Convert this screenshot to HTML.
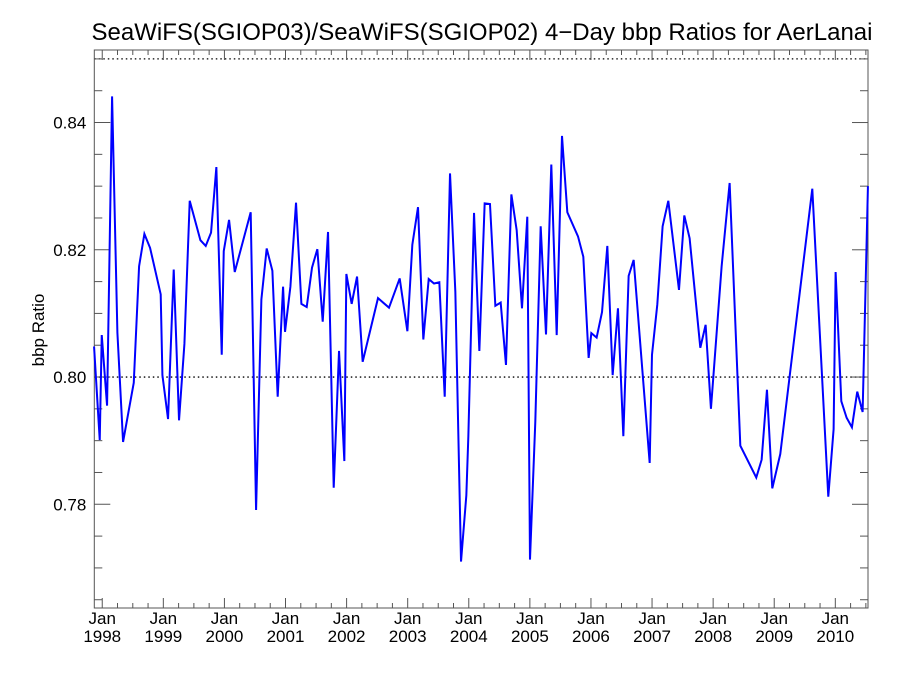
<!DOCTYPE html>
<html><head><meta charset="utf-8"><style>
html,body{margin:0;padding:0;background:#fff;}
svg{display:block;font-family:"Liberation Sans",Arial,sans-serif;}
</style></head><body>
<svg id="chart" width="900" height="675" viewBox="0 0 900 675">
<text x="482" y="40" font-size="24" text-anchor="middle" fill="#000">SeaWiFS(SGIOP03)/SeaWiFS(SGIOP02) 4−Day bbp Ratios for AerLanai</text>
<text transform="translate(44,330) rotate(-90)" font-size="17" text-anchor="middle" fill="#000">bbp Ratio</text>
<g id="axes"></g>
<g id="plot"></g>
</svg>
<script>
const years = [1997.866,1997.959,1997.992,1998.079,1998.161,1998.248,1998.341,1998.516,1998.603,1998.690,1998.783,1998.957,1998.985,1999.077,1999.170,1999.257,1999.345,1999.432,1999.607,1999.694,1999.781,1999.868,1999.956,1999.989,2000.076,2000.169,2000.430,2000.518,2000.605,2000.692,2000.785,2000.872,2000.960,2000.992,2001.080,2001.172,2001.260,2001.347,2001.434,2001.521,2001.609,2001.696,2001.789,2001.876,2001.963,2001.996,2002.083,2002.171,2002.263,2002.514,2002.694,2002.869,2002.995,2003.076,2003.169,2003.256,2003.344,2003.431,2003.518,2003.606,2003.693,2003.780,2003.873,2003.960,2003.993,2004.086,2004.173,2004.260,2004.347,2004.435,2004.522,2004.609,2004.697,2004.784,2004.871,2004.958,2005.002,2005.089,2005.177,2005.264,2005.351,2005.439,2005.526,2005.613,2005.788,2005.875,2005.962,2006.006,2006.093,2006.181,2006.268,2006.355,2006.442,2006.530,2006.617,2006.699,2006.961,2006.999,2007.086,2007.173,2007.266,2007.441,2007.528,2007.615,2007.790,2007.877,2007.964,2008.139,2008.270,2008.445,2008.706,2008.794,2008.881,2008.968,2009.099,2009.623,2009.885,2009.972,2010.005,2010.098,2010.185,2010.272,2010.359,2010.447,2010.534];
const ratios = [0.8048,0.7901,0.8066,0.7955,0.8441,0.8070,0.7898,0.7991,0.8174,0.8225,0.8203,0.8130,0.8003,0.7934,0.8169,0.7932,0.8052,0.8277,0.8215,0.8206,0.8227,0.8330,0.8035,0.8198,0.8247,0.8165,0.8259,0.7791,0.8122,0.8202,0.8167,0.7969,0.8142,0.8071,0.8142,0.8274,0.8115,0.8110,0.8172,0.8201,0.8087,0.8228,0.7826,0.8041,0.7868,0.8162,0.8115,0.8158,0.8024,0.8124,0.8109,0.8155,0.8072,0.8208,0.8267,0.8059,0.8154,0.8147,0.8149,0.7969,0.8320,0.8134,0.7710,0.7814,0.7907,0.8258,0.8041,0.8273,0.8272,0.8112,0.8117,0.8019,0.8287,0.8231,0.8108,0.8252,0.7713,0.7930,0.8237,0.8067,0.8334,0.8066,0.8379,0.8259,0.8221,0.8189,0.8030,0.8069,0.8062,0.8102,0.8206,0.8003,0.8108,0.7907,0.8159,0.8184,0.7865,0.8035,0.8114,0.8237,0.8277,0.8137,0.8254,0.8218,0.8046,0.8082,0.7950,0.8174,0.8305,0.7892,0.7842,0.7870,0.7980,0.7825,0.7879,0.8296,0.7812,0.7918,0.8165,0.7962,0.7936,0.7921,0.7977,0.7945,0.8300];
const yTickValues = [0.78,0.80,0.82,0.84];
const yTickLabels = ["0.78","0.80","0.82","0.84"];
const xTickYears = [1998,1999,2000,2001,2002,2003,2004,2005,2006,2007,2008,2009,2010];
const refLines = [0.80,0.85];

const L=94.3,R=868,T=50,B=608;
const X0=1997.87,X1=2010.535,Y0=0.7637,Y1=0.8514;
const NS='http://www.w3.org/2000/svg';
function xs(v){return L+(v-X0)/(X1-X0)*(R-L);}
function ys(v){return B-(v-Y0)/(Y1-Y0)*(B-T);}
function mk(tag,attrs,parent){const e=document.createElementNS(NS,tag);for(const k in attrs)e.setAttribute(k,attrs[k]);parent.appendChild(e);return e;}
const axes=document.getElementById('axes'),plot=document.getElementById('plot');

// reference dotted lines
refLines.forEach(v=>{
  const l=mk('line',{x1:L,x2:R,y1:ys(v),y2:ys(v),stroke:'#000','stroke-width':1.3,'stroke-dasharray':'1.5,3'},axes);
  
  
});
// frame
const fr=mk('rect',{x:L,y:T,width:R-L,height:B-T,fill:'none',stroke:'#555','stroke-width':1},axes);



// y minor/major ticks
for(let v=0.765;v<=0.8505;v+=0.005){
  const major=yTickValues.some(t=>Math.abs(t-v)<1e-6);
  const len=major?16:8, y=ys(v);
  mk('line',{x1:L,x2:L+len,y1:y,y2:y,stroke:'#555','stroke-width':1},axes);
  mk('line',{x1:R,x2:R-len,y1:y,y2:y,stroke:'#555','stroke-width':1},axes);
}
yTickValues.forEach((v,i)=>{
  const t=mk('text',{x:L-8,y:ys(v)+6,'font-size':17,'text-anchor':'end',fill:'#000'},axes);
  t.textContent=yTickLabels[i];
  
  
});
// x ticks every 3 months
for(let yv=1998;yv<=2010.5;yv+=0.25){
  const x=xs(yv); if(x<L||x>R)continue;
  const major=Math.abs(yv-Math.round(yv))<1e-6;
  const len=major?10:5;
  mk('line',{x1:x,x2:x,y1:B,y2:B-len,stroke:'#555','stroke-width':1},axes);
  mk('line',{x1:x,x2:x,y1:T,y2:T+len,stroke:'#555','stroke-width':1},axes);
}
xTickYears.forEach(yr=>{
  const x=xs(yr);
  const t1=mk('text',{x:x,y:624,'font-size':17,'text-anchor':'middle',fill:'#000'},axes);
  t1.textContent='Jan';
  
  
  const t2=mk('text',{x:x,y:642,'font-size':17,'text-anchor':'middle',fill:'#000'},axes);
  t2.textContent=String(yr);
  
  
});
// series
const pts=years.map((yr,i)=>xs(yr).toFixed(2)+','+ys(ratios[i]).toFixed(2)).join(' ');
const line=mk('polyline',{points:pts,fill:'none',stroke:'#0000ff','stroke-width':2,'stroke-linejoin':'miter'},plot);


</script>
</body></html>
